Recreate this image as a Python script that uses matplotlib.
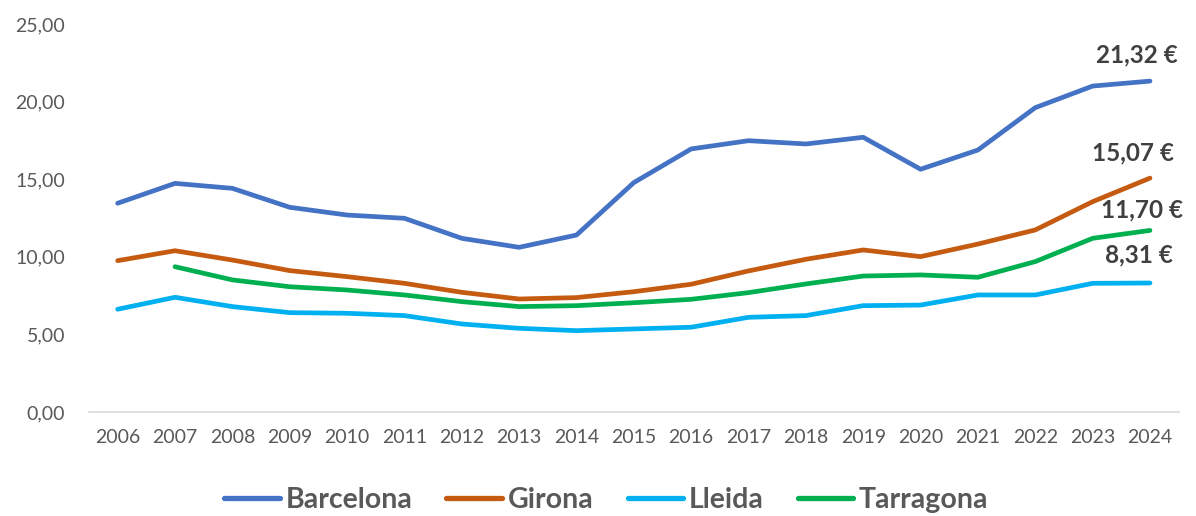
import matplotlib
matplotlib.use("Agg")
import matplotlib.pyplot as plt

plt.rcParams['font.family'] = ['Lato', 'DejaVu Sans']

years = [str(y) for y in range(2006, 2025)]

barcelona = [13.45, 14.73, 14.41, 13.19, 12.69, 12.48, 11.19, 10.61, 11.40, 14.78,
             16.95, 17.48, 17.27, 17.70, 15.64, 16.88, 19.61, 21.00, 21.32]
girona = [9.75, 10.39, 9.79, 9.11, 8.72, 8.29, 7.71, 7.28, 7.37, 7.75,
          8.23, 9.09, 9.84, 10.44, 10.01, 10.82, 11.73, 13.55, 15.07]
lleida = [6.62, 7.39, 6.79, 6.40, 6.36, 6.21, 5.67, 5.39, 5.24, 5.35,
          5.46, 6.10, 6.21, 6.85, 6.89, 7.54, 7.54, 8.29, 8.31]
# Tarragona has no value for 2006
tarragona = [None, 9.36, 8.51, 8.07, 7.86, 7.54, 7.11, 6.79, 6.85, 7.04,
             7.26, 7.69, 8.25, 8.76, 8.83, 8.68, 9.69, 11.19, 11.70]

series = [
    ("Barcelona", barcelona, "#4472C4", (-13, 26)),
    ("Girona", girona, "#C55A11", (-17, 25)),
    ("Lleida", lleida, "#00B0F0", (-11, 28)),
    ("Tarragona", tarragona, "#00B050", (-8, 20)),
]

fig = plt.figure(figsize=(11.96, 5.16), dpi=100)
ax = fig.add_axes([0.0744, 0.2016, 0.9111, 0.7519])

for name, vals, color, off in series:
    xs = [i for i, v in enumerate(vals) if v is not None]
    ys = [v for v in vals if v is not None]
    ax.plot(xs, ys, color=color, linewidth=3.4, solid_capstyle='round',
            solid_joinstyle='round', label=name)
    last = ys[-1]
    ax.annotate(f"{last:.2f} €".replace('.', ','), (xs[-1], last),
                xytext=off, textcoords='offset pixels', ha='center', va='center',
                fontsize=17.5, fontweight='bold', color='#404040')

ax.set_xlim(-0.5, len(years) - 0.5)
ax.set_ylim(0, 25)
ax.set_xticks(range(len(years)))
ax.set_xticklabels(years)
ax.set_yticks([0, 5, 10, 15, 20, 25])
ax.set_yticklabels([f"{v:.2f}".replace('.', ',') for v in [0, 5, 10, 15, 20, 25]])
ax.tick_params(axis='both', length=0, labelsize=14, colors='#595959')
ax.tick_params(axis='x', pad=12)
ax.tick_params(axis='y', pad=17)

for side in ['top', 'right', 'left']:
    ax.spines[side].set_visible(False)
ax.spines['bottom'].set_color('#D9D9D9')
ax.spines['bottom'].set_linewidth(1.2)

leg = fig.legend(loc='center', ncol=4, frameon=False, bbox_to_anchor=(0.507, 0.031),
                 handlelength=1.95, handletextpad=0.2, columnspacing=1.2,
                 prop={'size': 20.5, 'weight': 'bold'})
for line in leg.get_lines():
    line.set_linewidth(3.8)
    line.set_solid_capstyle('round')
for t in leg.get_texts():
    t.set_color('#595959')

fig.savefig("out.png", dpi=100)
